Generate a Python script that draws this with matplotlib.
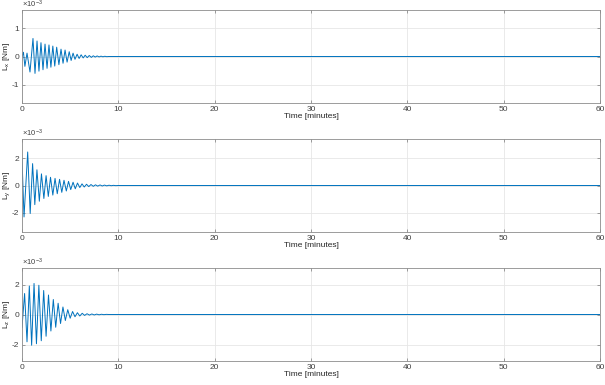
import matplotlib
matplotlib.use("Agg")
import matplotlib.pyplot as plt
from matplotlib.ticker import FuncFormatter
import numpy as np

# Extrema of the oscillations (values in 1e-3 Nm, time in minutes)
lx_t = [0, 0.15, 0.3, 0.52, 0.83, 1.14, 1.35, 1.56, 1.76, 1.97, 2.18, 2.39, 2.6, 2.8, 3.0,
        3.2, 3.4, 3.6, 3.83, 4.05, 4.26, 4.47, 4.68, 4.9, 5.1, 5.3, 5.5, 5.72, 5.93, 6.14,
        6.35, 6.56, 6.77, 6.98, 7.2, 7.4, 7.6, 7.8, 8.0, 8.2, 8.4, 8.6, 8.8, 9.0, 60]
lx_v = [0, 0.15, -0.35, 0.12, -0.55, 0.64, -0.6, 0.55, -0.52, 0.49, -0.47, 0.44, -0.42, 0.41, -0.38,
        0.37, -0.34, 0.33, -0.29, 0.26, -0.24, 0.23, -0.2, 0.17, -0.14, 0.12, -0.1, 0.08, -0.07, 0.06,
        -0.05, 0.045, -0.04, 0.035, -0.03, 0.025, -0.02, 0.02, -0.015, 0.012, -0.01, 0.008, -0.006, 0.0, 0.0]

ly_t = [0, 0.21, 0.59, 0.85, 1.1, 1.33, 1.55, 1.8, 2.02, 2.27, 2.5, 2.73, 2.96, 3.2, 3.43,
        3.66, 3.9, 4.13, 4.36, 4.6, 4.83, 5.06, 5.3, 5.53, 5.76, 6.0, 6.23, 6.46, 6.7, 6.93,
        7.16, 7.4, 7.63, 7.86, 8.1, 8.33, 8.56, 8.8, 9.03, 9.26, 9.5, 9.73, 10.0, 60]
ly_v = [1.95, -2.3, 2.45, -2.05, 1.6, -1.4, 1.15, -1.15, 0.85, -0.95, 0.72, -0.8, 0.6, -0.7, 0.52,
        -0.6, 0.45, -0.5, 0.38, -0.4, 0.3, -0.3, 0.24, -0.24, 0.18, -0.15, 0.12, -0.11, 0.09, -0.08,
        0.07, -0.06, 0.05, -0.045, 0.04, -0.035, 0.03, -0.025, 0.02, -0.015, 0.012, -0.01, 0.0, 0.0]

lz_t = [0, 0.27, 0.52, 0.76, 1.0, 1.25, 1.5, 1.75, 2.0, 2.25, 2.5, 2.75, 3.0, 3.25, 3.5,
        3.75, 4.0, 4.25, 4.5, 4.75, 5.0, 5.25, 5.5, 5.75, 6.0, 6.25, 6.5, 6.75, 7.0, 7.25,
        7.5, 7.75, 8.0, 8.25, 8.5, 8.75, 9.0, 60]
lz_v = [-0.86, 1.4, -1.82, 1.9, -2.05, 2.07, -1.95, 1.95, -1.75, 1.6, -1.45, 1.3, -1.1, 1.0, -0.85,
        0.75, -0.6, 0.5, -0.4, 0.32, -0.25, 0.2, -0.15, 0.12, -0.1, 0.08, -0.06, 0.05, -0.04, 0.035,
        -0.03, 0.025, -0.02, 0.015, -0.01, 0.008, 0.0, 0.0]

ylabels = ["L$_x$ [Nm]", "L$_y$ [Nm]", "L$_z$ [Nm]"]
ylims = [1.65, 3.4, 3.1]
yticks = [[-1, 0, 1], [-2, 0, 2], [-2, 0, 2]]
xticks = [0, 10, 20, 30, 40, 50, 60]

plt.rcParams['font.family'] = ['Liberation Sans', 'DejaVu Sans']
plt.rcParams['mathtext.fontset'] = 'custom'
plt.rcParams['mathtext.rm'] = 'Liberation Sans'
plt.rcParams['mathtext.it'] = 'Liberation Sans'

W, H = 605, 385
fig = plt.figure(figsize=(W / 100, H / 100), dpi=100)
tops = [10, 139, 268]
ax_h = 93
left, right = 22, 600

series = [(lx_t, lx_v), (ly_t, ly_v), (lz_t, lz_v)]
edge = '#8c8c8c'
txt = '#404040'
for i, (tt, vv) in enumerate(series):
    ax = fig.add_axes([left / W, 1 - (tops[i] + ax_h) / H, (right - left) / W, ax_h / H])
    ax.plot(tt, np.array(vv) * 1e-3, color='#0072BD', lw=0.7)
    ax.set_xlim(0, 60)
    ax.set_ylim(-ylims[i] * 1e-3, ylims[i] * 1e-3)
    ax.set_xticks(xticks)
    ax.set_yticks(np.array(yticks[i]) * 1e-3)
    ax.yaxis.set_major_formatter(FuncFormatter(lambda v, p: f"{v * 1e3:.0f}"))
    ax.text(0.0, 1.0, r"$\times10^{-3}$", transform=ax.transAxes, ha='left', va='bottom',
            fontsize=5.5, color=txt)
    ax.grid(True, color='#e6e6e6', lw=0.6)
    ax.set_axisbelow(True)
    for s in ax.spines.values():
        s.set_color(edge)
        s.set_linewidth(0.6)
    ax.tick_params(direction='in', length=2.5, width=0.6, colors=edge, labelsize=6,
                   labelcolor=txt, top=True, right=True, pad=2)
    ax.set_xlabel("Time [minutes]", fontsize=6, color='#262626', labelpad=0.5)
    ax.set_ylabel(ylabels[i], fontsize=6, color='#262626', va='center')
    ax.yaxis.set_label_coords(-15 / (right - left), 0.5)

fig.savefig("out.png", dpi=100)
